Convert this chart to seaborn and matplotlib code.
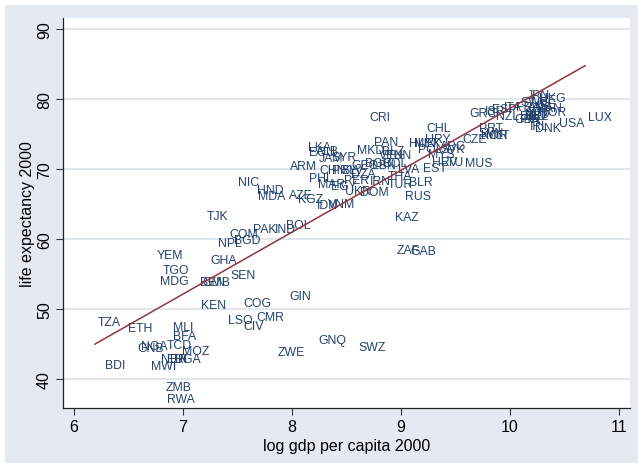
import numpy as np
import pandas as pd
import seaborn as sns
import matplotlib.pyplot as plt
from matplotlib.patches import Rectangle

# country codes, log gdp per capita 2000, life expectancy 2000
codes = ["TZA", "ETH", "BDI", "GNB", "NGA", "MWI", "MLI", "BFA", "TCD", "MOZ",
         "NER", "ERI", "UGA", "ZMB", "RWA", "YEM", "TGO", "MDG", "TJK", "COM",
         "NPL", "BGD", "PAK", "IND", "BOL", "GHA", "SEN", "BEN", "GMB", "KEN",
         "COG", "LSO", "CMR", "CIV", "GIN", "ZWE", "GNQ", "SWZ", "NIC", "HND",
         "MDA", "AZE", "KGZ", "IDN", "VNM", "ARM", "LKA", "ECU", "ALB", "JAM",
         "SYR", "MKD", "PAN", "BLZ", "VEN", "GEO", "BGR", "LBN", "TUN", "COL",
         "CHN", "PRY", "SLV", "DZA", "PHL", "PER", "MAR", "EGY", "UKR", "DOM",
         "IRN", "THA", "TUR", "LVA", "BLR", "RUS", "KAZ", "ZAF", "GAB", "CRI",
         "CHL", "URY", "HUN", "MEX", "POL", "ARG", "SVK", "MYS", "HRV", "LTU",
         "EST", "CZE", "MUS", "PRT", "SVN", "KOR", "MLT", "GRC", "ISR", "ESP",
         "ITA", "NZL", "JPN", "HKG", "CHE", "SWE", "ISL", "FRA", "AUS", "CAN",
         "NOR", "AUT", "NLD", "DEU", "BEL", "GBR", "FIN", "IRL", "DNK", "USA",
         "LUX"]
log_gdp = [6.19, 6.47, 6.26, 6.56, 6.59, 6.68, 6.88, 6.88, 6.83, 6.97,
           6.77, 6.83, 6.89, 6.82, 6.83, 6.73, 6.79, 6.76, 7.19, 7.40,
           7.30, 7.44, 7.62, 7.82, 7.92, 7.23, 7.41, 7.13, 7.15, 7.14,
           7.53, 7.39, 7.65, 7.53, 7.95, 7.84, 8.22, 8.58, 7.48, 7.65,
           7.66, 7.95, 8.03, 8.20, 8.30, 7.96, 8.12, 8.13, 8.19, 8.22,
           8.34, 8.57, 8.73, 8.80, 8.77, 8.52, 8.64, 8.71, 8.84, 8.80,
           8.23, 8.34, 8.43, 8.52, 8.13, 8.45, 8.21, 8.33, 8.46, 8.60,
           8.69, 8.85, 8.85, 8.95, 9.05, 9.01, 8.92, 8.93, 9.06, 8.68,
           9.21, 9.19, 9.05, 9.09, 9.13, 9.33, 9.34, 9.22, 9.26, 9.34,
           9.18, 9.54, 9.56, 9.69, 9.68, 9.71, 9.75, 9.60, 9.74, 9.81,
           9.92, 9.85, 10.13, 10.24, 10.16, 10.07, 10.22, 10.03, 10.14, 10.22,
           10.24, 10.11, 10.11, 10.07, 10.11, 10.01, 10.07, 10.16, 10.20, 10.42,
           10.69]
life_exp = [48.2, 47.3, 42.0, 44.4, 44.7, 41.8, 47.5, 46.1, 44.8, 44.0,
            42.8, 42.8, 42.8, 38.8, 37.1, 57.7, 55.6, 54.0, 63.3, 60.7,
            59.4, 59.9, 61.4, 61.5, 62.0, 57.0, 54.9, 53.8, 53.8, 50.6,
            50.9, 48.5, 48.8, 47.6, 51.9, 43.9, 45.6, 44.6, 68.1, 67.0,
            66.2, 66.3, 65.7, 64.9, 65.0, 70.5, 73.1, 72.4, 72.6, 71.6,
            71.7, 72.7, 73.8, 72.6, 72.0, 70.6, 70.9, 70.6, 72.0, 70.9,
            69.8, 69.8, 69.8, 69.3, 68.7, 68.4, 67.9, 67.6, 66.8, 66.7,
            68.3, 69.0, 67.9, 70.0, 68.2, 66.1, 63.2, 58.5, 58.3, 77.4,
            75.9, 74.3, 73.7, 73.7, 72.8, 73.3, 72.9, 72.1, 71.0, 71.0,
            70.1, 74.3, 70.8, 75.9, 75.1, 74.8, 74.8, 78.0, 78.3, 78.6,
            78.8, 77.6, 80.6, 80.1, 79.8, 79.5, 79.1, 78.8, 78.8, 78.7,
            78.2, 78.3, 77.9, 77.6, 77.5, 77.1, 77.1, 76.2, 75.9, 76.5,
            77.4]

df = pd.DataFrame({"code": codes, "lgdp": log_gdp, "lexp": life_exp})

navy = "#23416c"
maroon = "#90353b"
outer = "#e5eaf2"
grid = "#dce3ea"

sns.set_theme(style="white")
plt.rcParams["font.family"] = ["Liberation Sans", "DejaVu Sans"]

fig = plt.figure(figsize=(6.38, 4.64), dpi=100)
fig.patches.append(Rectangle((5 / 638, 0), 1, 1 - 6 / 464, transform=fig.transFigure,
                             facecolor=outer, edgecolor="none", zorder=-10))
ax = fig.add_axes([63 / 638, 1 - 409 / 464, 567 / 638, 390 / 464])
ax.set_facecolor("white")

# Stata-style marker labels to the right of each (invisible) point
for _, r in df.iterrows():
    ax.annotate(r["code"], (r["lgdp"], r["lexp"]), xytext=(2, 0),
                textcoords="offset points", ha="left", va="center",
                fontsize=8.8, color=navy, zorder=3)

sns.regplot(data=df, x="lgdp", y="lexp", scatter=False, ci=None, ax=ax,
            line_kws={"color": maroon, "lw": 1.1, "zorder": 4})

ax.set_xlim(5.90, 11.10)
ax.set_ylim(35.86, 91.57)
ax.set_xticks([6, 7, 8, 9, 10, 11])
ax.set_yticks([40, 50, 60, 70, 80, 90])
ax.set_yticklabels(["40", "50", "60", "70", "80", "90"], rotation=90, va="center")
ax.yaxis.grid(True, color=grid, lw=1.2, zorder=0)
ax.set_axisbelow(True)

for s in ["top", "right"]:
    ax.spines[s].set_visible(False)
for s in ["left", "bottom"]:
    ax.spines[s].set_color("#222222")
    ax.spines[s].set_linewidth(0.9)

ax.tick_params(axis="both", which="major", direction="out", length=5, width=0.8,
               color="#333333", labelsize=11.5, labelcolor="black", pad=3,
               bottom=True, left=True)
ax.set_xlabel("log gdp per capita 2000", fontsize=11.5, color="black", labelpad=3)
ax.set_ylabel("life expectancy 2000", fontsize=11.5, color="black", labelpad=1)

fig.savefig("out.png", dpi=100)
